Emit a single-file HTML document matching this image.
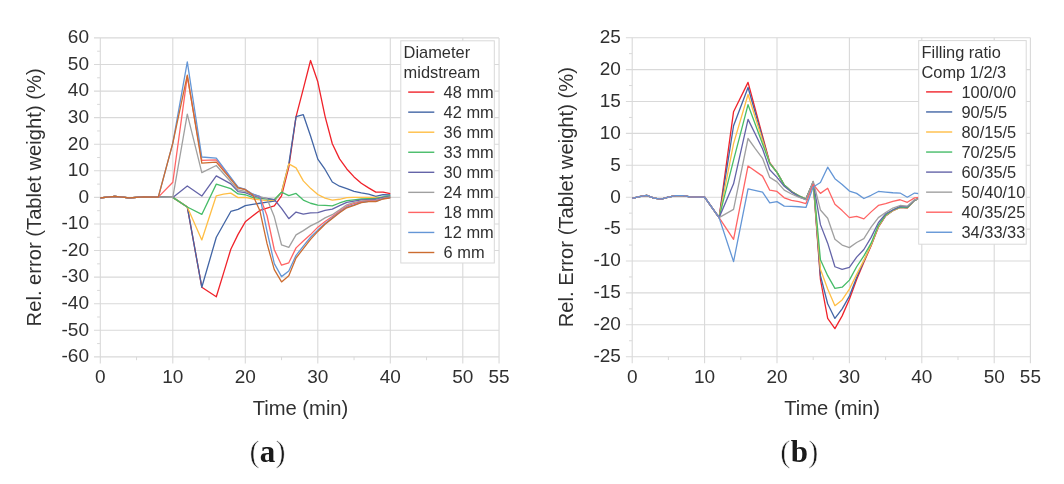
<!DOCTYPE html>
<html><head><meta charset="utf-8"><style>
html,body{margin:0;padding:0;background:#fff;width:1064px;height:484px;overflow:hidden;}
svg{display:block;will-change:transform;}
text{font-family:"Liberation Sans", sans-serif;fill:#303030;}
.tk{font-size:19px;}
.at{font-size:20.2px;}
.lg{font-size:16.4px;}
.par{stroke:#fff;stroke-width:0.55px;}
.cap{font-family:"Liberation Serif", serif;font-size:31px;fill:#1a1a1a;}
</style></head><body>
<svg width="1064" height="484" viewBox="0 0 1064 484">
<rect width="1064" height="484" fill="#fff"/>
<line x1="94.00" y1="356.88" x2="499.05" y2="356.88" stroke="#d9d9d9" stroke-width="1.1"/>
<line x1="94.00" y1="330.30" x2="499.05" y2="330.30" stroke="#d9d9d9" stroke-width="1.1"/>
<line x1="94.00" y1="303.72" x2="499.05" y2="303.72" stroke="#d9d9d9" stroke-width="1.1"/>
<line x1="94.00" y1="277.14" x2="499.05" y2="277.14" stroke="#d9d9d9" stroke-width="1.1"/>
<line x1="94.00" y1="250.56" x2="499.05" y2="250.56" stroke="#d9d9d9" stroke-width="1.1"/>
<line x1="94.00" y1="223.98" x2="499.05" y2="223.98" stroke="#d9d9d9" stroke-width="1.1"/>
<line x1="94.00" y1="197.40" x2="499.05" y2="197.40" stroke="#d9d9d9" stroke-width="1.1"/>
<line x1="94.00" y1="170.82" x2="499.05" y2="170.82" stroke="#d9d9d9" stroke-width="1.1"/>
<line x1="94.00" y1="144.24" x2="499.05" y2="144.24" stroke="#d9d9d9" stroke-width="1.1"/>
<line x1="94.00" y1="117.66" x2="499.05" y2="117.66" stroke="#d9d9d9" stroke-width="1.1"/>
<line x1="94.00" y1="91.08" x2="499.05" y2="91.08" stroke="#d9d9d9" stroke-width="1.1"/>
<line x1="94.00" y1="64.50" x2="499.05" y2="64.50" stroke="#d9d9d9" stroke-width="1.1"/>
<line x1="94.00" y1="37.92" x2="499.05" y2="37.92" stroke="#d9d9d9" stroke-width="1.1"/>
<line x1="97.10" y1="343.59" x2="100.30" y2="343.59" stroke="#d9d9d9" stroke-width="1"/>
<line x1="97.10" y1="317.01" x2="100.30" y2="317.01" stroke="#d9d9d9" stroke-width="1"/>
<line x1="97.10" y1="290.43" x2="100.30" y2="290.43" stroke="#d9d9d9" stroke-width="1"/>
<line x1="97.10" y1="263.85" x2="100.30" y2="263.85" stroke="#d9d9d9" stroke-width="1"/>
<line x1="97.10" y1="237.27" x2="100.30" y2="237.27" stroke="#d9d9d9" stroke-width="1"/>
<line x1="97.10" y1="210.69" x2="100.30" y2="210.69" stroke="#d9d9d9" stroke-width="1"/>
<line x1="97.10" y1="184.11" x2="100.30" y2="184.11" stroke="#d9d9d9" stroke-width="1"/>
<line x1="97.10" y1="157.53" x2="100.30" y2="157.53" stroke="#d9d9d9" stroke-width="1"/>
<line x1="97.10" y1="130.95" x2="100.30" y2="130.95" stroke="#d9d9d9" stroke-width="1"/>
<line x1="97.10" y1="104.37" x2="100.30" y2="104.37" stroke="#d9d9d9" stroke-width="1"/>
<line x1="97.10" y1="77.79" x2="100.30" y2="77.79" stroke="#d9d9d9" stroke-width="1"/>
<line x1="97.10" y1="51.21" x2="100.30" y2="51.21" stroke="#d9d9d9" stroke-width="1"/>
<line x1="100.30" y1="37.92" x2="100.30" y2="363.48" stroke="#d9d9d9" stroke-width="1.1"/>
<line x1="172.80" y1="37.92" x2="172.80" y2="363.48" stroke="#d9d9d9" stroke-width="1.1"/>
<line x1="245.30" y1="37.92" x2="245.30" y2="363.48" stroke="#d9d9d9" stroke-width="1.1"/>
<line x1="317.80" y1="37.92" x2="317.80" y2="363.48" stroke="#d9d9d9" stroke-width="1.1"/>
<line x1="390.30" y1="37.92" x2="390.30" y2="363.48" stroke="#d9d9d9" stroke-width="1.1"/>
<line x1="462.80" y1="37.92" x2="462.80" y2="363.48" stroke="#d9d9d9" stroke-width="1.1"/>
<line x1="499.05" y1="37.92" x2="499.05" y2="363.48" stroke="#d9d9d9" stroke-width="1.1"/>
<line x1="136.55" y1="356.88" x2="136.55" y2="360.18" stroke="#d9d9d9" stroke-width="1"/>
<line x1="209.05" y1="356.88" x2="209.05" y2="360.18" stroke="#d9d9d9" stroke-width="1"/>
<line x1="281.55" y1="356.88" x2="281.55" y2="360.18" stroke="#d9d9d9" stroke-width="1"/>
<line x1="354.05" y1="356.88" x2="354.05" y2="360.18" stroke="#d9d9d9" stroke-width="1"/>
<line x1="426.55" y1="356.88" x2="426.55" y2="360.18" stroke="#d9d9d9" stroke-width="1"/>
<text x="89.00" y="362.18" text-anchor="end" class="tk">-60</text>
<text x="89.00" y="335.60" text-anchor="end" class="tk">-50</text>
<text x="89.00" y="309.02" text-anchor="end" class="tk">-40</text>
<text x="89.00" y="282.44" text-anchor="end" class="tk">-30</text>
<text x="89.00" y="255.86" text-anchor="end" class="tk">-20</text>
<text x="89.00" y="229.28" text-anchor="end" class="tk">-10</text>
<text x="89.00" y="202.70" text-anchor="end" class="tk">0</text>
<text x="89.00" y="176.12" text-anchor="end" class="tk">10</text>
<text x="89.00" y="149.54" text-anchor="end" class="tk">20</text>
<text x="89.00" y="122.96" text-anchor="end" class="tk">30</text>
<text x="89.00" y="96.38" text-anchor="end" class="tk">40</text>
<text x="89.00" y="69.80" text-anchor="end" class="tk">50</text>
<text x="89.00" y="43.22" text-anchor="end" class="tk">60</text>
<text x="100.30" y="382.68" text-anchor="middle" class="tk">0</text>
<text x="172.80" y="382.68" text-anchor="middle" class="tk">10</text>
<text x="245.30" y="382.68" text-anchor="middle" class="tk">20</text>
<text x="317.80" y="382.68" text-anchor="middle" class="tk">30</text>
<text x="390.30" y="382.68" text-anchor="middle" class="tk">40</text>
<text x="462.80" y="382.68" text-anchor="middle" class="tk">50</text>
<text x="499.05" y="382.68" text-anchor="middle" class="tk">55</text>
<text x="300.48" y="415.18" text-anchor="middle" class="at">Time (min)</text>
<text transform="translate(40.60,197.40) rotate(-90)" text-anchor="middle" class="at">Rel. error (Tablet weight) (%)</text>
<polyline points="100.30,197.93 114.80,196.34 129.30,197.93 143.80,196.87 158.30,197.13 172.80,197.40 187.30,206.97 201.80,287.24 216.30,296.81 223.55,273.15 230.80,249.23 238.05,234.35 245.30,221.85 252.55,216.01 259.80,210.42 267.05,208.03 274.30,205.91 281.55,195.81 288.80,167.10 296.05,116.60 303.30,88.95 310.55,60.51 317.80,81.78 325.05,116.33 332.30,143.71 339.55,158.86 346.80,168.96 354.05,176.93 361.30,183.31 368.55,187.83 375.80,192.08 383.05,192.08 390.30,193.68" fill="none" stroke="#F0222A" stroke-width="1.3" stroke-linejoin="round"/>
<polyline points="100.30,197.93 114.80,196.34 129.30,197.93 143.80,196.87 158.30,197.13 172.80,197.40 187.30,206.97 201.80,287.24 216.30,237.27 230.80,211.49 238.05,209.36 245.30,205.64 252.55,204.31 259.80,203.25 267.05,202.18 274.30,201.12 281.55,192.08 288.80,163.91 296.05,116.60 303.30,114.74 310.55,136.00 317.80,159.12 325.05,169.49 332.30,181.98 339.55,186.24 346.80,188.63 354.05,191.29 361.30,192.88 368.55,194.21 375.80,196.34 383.05,194.74 390.30,195.01" fill="none" stroke="#4265A5" stroke-width="1.3" stroke-linejoin="round"/>
<polyline points="100.30,197.93 114.80,196.34 129.30,197.93 143.80,196.87 158.30,197.13 172.80,197.40 187.30,206.97 201.80,239.93 216.30,195.81 223.55,194.21 230.80,193.15 238.05,197.67 245.30,197.40 252.55,198.99 259.80,199.79 267.05,200.59 274.30,200.32 281.55,192.08 288.80,163.91 296.05,167.90 303.30,180.92 310.55,188.36 317.80,194.48 325.05,198.20 332.30,200.06 339.55,199.26 346.80,197.67 354.05,197.40 361.30,197.40 368.55,197.40 375.80,197.40 383.05,197.40 390.30,197.40" fill="none" stroke="#FFBE45" stroke-width="1.3" stroke-linejoin="round"/>
<polyline points="100.30,197.93 114.80,196.34 129.30,197.93 143.80,196.87 158.30,197.13 172.80,197.40 187.30,206.97 201.80,214.41 216.30,184.11 230.80,188.63 238.05,193.94 245.30,194.74 252.55,197.40 259.80,198.46 267.05,198.99 274.30,199.53 281.55,192.08 288.80,195.54 296.05,193.41 303.30,200.06 310.55,203.25 317.80,205.11 325.05,205.37 332.30,205.91 339.55,202.98 346.80,200.59 354.05,199.79 361.30,198.99 368.55,198.73 375.80,198.46 383.05,196.87 390.30,195.81" fill="none" stroke="#46BC68" stroke-width="1.3" stroke-linejoin="round"/>
<polyline points="100.30,197.93 114.80,196.34 129.30,197.93 143.80,196.87 158.30,197.13 172.80,197.40 187.30,185.97 201.80,196.07 216.30,175.87 230.80,183.84 238.05,191.55 245.30,192.62 252.55,195.54 259.80,197.40 267.05,198.46 274.30,199.53 281.55,208.30 288.80,218.66 296.05,212.02 303.30,214.15 310.55,212.82 317.80,212.55 325.05,210.42 332.30,209.10 339.55,205.64 346.80,202.45 354.05,201.12 361.30,199.79 368.55,199.53 375.80,199.26 383.05,197.40 390.30,196.87" fill="none" stroke="#6464A8" stroke-width="1.3" stroke-linejoin="round"/>
<polyline points="100.30,197.93 114.80,196.34 129.30,197.93 143.80,196.87 158.30,197.13 172.80,197.40 187.30,114.20 201.80,172.68 216.30,165.50 238.05,189.96 245.30,191.29 252.55,194.74 259.80,196.60 267.05,198.73 274.30,216.80 281.55,244.98 288.80,247.37 296.05,234.88 303.30,230.62 310.55,225.84 317.80,222.39 325.05,217.87 332.30,214.68 339.55,209.89 346.80,204.84 354.05,202.45 361.30,201.12 368.55,200.32 375.80,200.06 383.05,198.46 390.30,197.13" fill="none" stroke="#A0A0A0" stroke-width="1.3" stroke-linejoin="round"/>
<polyline points="100.30,197.93 114.80,196.34 129.30,197.93 143.80,196.87 158.30,197.13 172.80,182.25 187.30,76.46 201.80,160.45 216.30,159.92 238.05,187.57 245.30,189.43 252.55,194.21 259.80,196.60 267.05,215.74 274.30,249.76 281.55,265.18 288.80,262.79 296.05,247.90 303.30,240.99 310.55,234.61 317.80,227.17 325.05,221.59 332.30,216.54 339.55,211.22 346.80,206.17 354.05,203.51 361.30,201.65 368.55,200.86 375.80,200.86 383.05,198.46 390.30,197.40" fill="none" stroke="#FF6464" stroke-width="1.3" stroke-linejoin="round"/>
<polyline points="100.30,197.93 114.80,196.34 129.30,197.93 143.80,196.87 158.30,197.13 172.80,143.18 187.30,61.84 201.80,157.00 216.30,158.06 238.05,187.03 245.30,189.43 252.55,193.94 259.80,196.34 267.05,231.42 274.30,263.58 281.55,276.61 288.80,271.03 296.05,255.34 303.30,246.04 310.55,237.27 317.80,230.09 325.05,223.45 332.30,217.87 339.55,212.28 346.80,207.23 354.05,204.84 361.30,202.45 368.55,201.39 375.80,201.39 383.05,198.73 390.30,197.67" fill="none" stroke="#6496D6" stroke-width="1.3" stroke-linejoin="round"/>
<polyline points="100.30,197.93 114.80,196.34 129.30,197.93 143.80,196.87 158.30,197.13 172.80,143.18 187.30,75.13 201.80,163.11 216.30,162.05 238.05,187.83 245.30,189.69 252.55,194.74 259.80,210.42 267.05,243.65 274.30,269.70 281.55,281.92 288.80,275.81 296.05,258.00 303.30,248.70 310.55,239.40 317.80,231.42 325.05,224.25 332.30,218.40 339.55,212.82 346.80,207.77 354.05,205.37 361.30,202.72 368.55,201.65 375.80,201.65 383.05,198.99 390.30,197.93" fill="none" stroke="#CC6C30" stroke-width="1.3" stroke-linejoin="round"/>
<rect x="400.80" y="40.80" width="93.50" height="222.20" fill="#fff" stroke="#d9d9d9" stroke-width="1"/>
<text x="403.60" y="57.80" class="lg">Diameter</text>
<text x="403.60" y="77.70" class="lg">midstream</text>
<line x1="408.20" y1="92.10" x2="434.30" y2="92.10" stroke="#F0222A" stroke-width="1.4"/>
<text x="443.60" y="97.70" class="lg">48 mm</text>
<line x1="408.20" y1="112.15" x2="434.30" y2="112.15" stroke="#4265A5" stroke-width="1.4"/>
<text x="443.60" y="117.75" class="lg">42 mm</text>
<line x1="408.20" y1="132.20" x2="434.30" y2="132.20" stroke="#FFBE45" stroke-width="1.4"/>
<text x="443.60" y="137.80" class="lg">36 mm</text>
<line x1="408.20" y1="152.25" x2="434.30" y2="152.25" stroke="#46BC68" stroke-width="1.4"/>
<text x="443.60" y="157.85" class="lg">33 mm</text>
<line x1="408.20" y1="172.30" x2="434.30" y2="172.30" stroke="#6464A8" stroke-width="1.4"/>
<text x="443.60" y="177.90" class="lg">30 mm</text>
<line x1="408.20" y1="192.35" x2="434.30" y2="192.35" stroke="#A0A0A0" stroke-width="1.4"/>
<text x="443.60" y="197.95" class="lg">24 mm</text>
<line x1="408.20" y1="212.40" x2="434.30" y2="212.40" stroke="#FF6464" stroke-width="1.4"/>
<text x="443.60" y="218.00" class="lg">18 mm</text>
<line x1="408.20" y1="232.45" x2="434.30" y2="232.45" stroke="#6496D6" stroke-width="1.4"/>
<text x="443.60" y="238.05" class="lg">12 mm</text>
<line x1="408.20" y1="252.50" x2="434.30" y2="252.50" stroke="#CC6C30" stroke-width="1.4"/>
<text x="443.60" y="258.10" class="lg">6 mm</text>
<text x="267.50" y="462.40" text-anchor="middle" class="cap"><tspan class="par">(</tspan><tspan font-weight="bold">a</tspan><tspan class="par">)</tspan></text>
<line x1="625.90" y1="356.70" x2="1030.40" y2="356.70" stroke="#d9d9d9" stroke-width="1.1"/>
<line x1="625.90" y1="324.80" x2="1030.40" y2="324.80" stroke="#d9d9d9" stroke-width="1.1"/>
<line x1="625.90" y1="292.90" x2="1030.40" y2="292.90" stroke="#d9d9d9" stroke-width="1.1"/>
<line x1="625.90" y1="261.00" x2="1030.40" y2="261.00" stroke="#d9d9d9" stroke-width="1.1"/>
<line x1="625.90" y1="229.10" x2="1030.40" y2="229.10" stroke="#d9d9d9" stroke-width="1.1"/>
<line x1="625.90" y1="197.20" x2="1030.40" y2="197.20" stroke="#d9d9d9" stroke-width="1.1"/>
<line x1="625.90" y1="165.30" x2="1030.40" y2="165.30" stroke="#d9d9d9" stroke-width="1.1"/>
<line x1="625.90" y1="133.40" x2="1030.40" y2="133.40" stroke="#d9d9d9" stroke-width="1.1"/>
<line x1="625.90" y1="101.50" x2="1030.40" y2="101.50" stroke="#d9d9d9" stroke-width="1.1"/>
<line x1="625.90" y1="69.60" x2="1030.40" y2="69.60" stroke="#d9d9d9" stroke-width="1.1"/>
<line x1="625.90" y1="37.70" x2="1030.40" y2="37.70" stroke="#d9d9d9" stroke-width="1.1"/>
<line x1="629.00" y1="340.75" x2="632.20" y2="340.75" stroke="#d9d9d9" stroke-width="1"/>
<line x1="629.00" y1="308.85" x2="632.20" y2="308.85" stroke="#d9d9d9" stroke-width="1"/>
<line x1="629.00" y1="276.95" x2="632.20" y2="276.95" stroke="#d9d9d9" stroke-width="1"/>
<line x1="629.00" y1="245.05" x2="632.20" y2="245.05" stroke="#d9d9d9" stroke-width="1"/>
<line x1="629.00" y1="213.15" x2="632.20" y2="213.15" stroke="#d9d9d9" stroke-width="1"/>
<line x1="629.00" y1="181.25" x2="632.20" y2="181.25" stroke="#d9d9d9" stroke-width="1"/>
<line x1="629.00" y1="149.35" x2="632.20" y2="149.35" stroke="#d9d9d9" stroke-width="1"/>
<line x1="629.00" y1="117.45" x2="632.20" y2="117.45" stroke="#d9d9d9" stroke-width="1"/>
<line x1="629.00" y1="85.55" x2="632.20" y2="85.55" stroke="#d9d9d9" stroke-width="1"/>
<line x1="629.00" y1="53.65" x2="632.20" y2="53.65" stroke="#d9d9d9" stroke-width="1"/>
<line x1="632.20" y1="37.70" x2="632.20" y2="363.30" stroke="#d9d9d9" stroke-width="1.1"/>
<line x1="704.60" y1="37.70" x2="704.60" y2="363.30" stroke="#d9d9d9" stroke-width="1.1"/>
<line x1="777.00" y1="37.70" x2="777.00" y2="363.30" stroke="#d9d9d9" stroke-width="1.1"/>
<line x1="849.40" y1="37.70" x2="849.40" y2="363.30" stroke="#d9d9d9" stroke-width="1.1"/>
<line x1="921.80" y1="37.70" x2="921.80" y2="363.30" stroke="#d9d9d9" stroke-width="1.1"/>
<line x1="994.20" y1="37.70" x2="994.20" y2="363.30" stroke="#d9d9d9" stroke-width="1.1"/>
<line x1="1030.40" y1="37.70" x2="1030.40" y2="363.30" stroke="#d9d9d9" stroke-width="1.1"/>
<line x1="668.40" y1="356.70" x2="668.40" y2="360.00" stroke="#d9d9d9" stroke-width="1"/>
<line x1="740.80" y1="356.70" x2="740.80" y2="360.00" stroke="#d9d9d9" stroke-width="1"/>
<line x1="813.20" y1="356.70" x2="813.20" y2="360.00" stroke="#d9d9d9" stroke-width="1"/>
<line x1="885.60" y1="356.70" x2="885.60" y2="360.00" stroke="#d9d9d9" stroke-width="1"/>
<line x1="958.00" y1="356.70" x2="958.00" y2="360.00" stroke="#d9d9d9" stroke-width="1"/>
<text x="620.90" y="362.00" text-anchor="end" class="tk">-25</text>
<text x="620.90" y="330.10" text-anchor="end" class="tk">-20</text>
<text x="620.90" y="298.20" text-anchor="end" class="tk">-15</text>
<text x="620.90" y="266.30" text-anchor="end" class="tk">-10</text>
<text x="620.90" y="234.40" text-anchor="end" class="tk">-5</text>
<text x="620.90" y="202.50" text-anchor="end" class="tk">0</text>
<text x="620.90" y="170.60" text-anchor="end" class="tk">5</text>
<text x="620.90" y="138.70" text-anchor="end" class="tk">10</text>
<text x="620.90" y="106.80" text-anchor="end" class="tk">15</text>
<text x="620.90" y="74.90" text-anchor="end" class="tk">20</text>
<text x="620.90" y="43.00" text-anchor="end" class="tk">25</text>
<text x="632.20" y="382.50" text-anchor="middle" class="tk">0</text>
<text x="704.60" y="382.50" text-anchor="middle" class="tk">10</text>
<text x="777.00" y="382.50" text-anchor="middle" class="tk">20</text>
<text x="849.40" y="382.50" text-anchor="middle" class="tk">30</text>
<text x="921.80" y="382.50" text-anchor="middle" class="tk">40</text>
<text x="994.20" y="382.50" text-anchor="middle" class="tk">50</text>
<text x="1030.40" y="382.50" text-anchor="middle" class="tk">55</text>
<text x="832.10" y="415.00" text-anchor="middle" class="at">Time (min)</text>
<text transform="translate(572.60,197.20) rotate(-90)" text-anchor="middle" class="at">Rel. Error (Tablet weight) (%)</text>
<polyline points="632.20,198.48 639.44,196.56 646.68,195.29 653.92,198.16 661.16,199.11 668.40,197.20 675.64,195.60 682.88,195.60 690.12,196.88 704.60,197.20 719.08,217.62 733.56,111.71 748.04,82.36 769.76,162.75 777.00,172.32 784.24,185.08 791.48,191.46 798.72,195.92 805.96,199.11 813.20,181.89 820.44,279.50 827.68,318.42 834.92,328.63 842.16,315.87 849.40,299.28 856.64,279.50 863.88,262.28 871.12,245.69 878.36,227.19 885.60,216.02 892.84,210.60 900.08,207.41 907.32,207.73 914.56,200.39 921.80,197.20" fill="none" stroke="#F0222A" stroke-width="1.3" stroke-linejoin="round"/>
<polyline points="632.20,198.48 639.44,196.56 646.68,195.29 653.92,198.16 661.16,199.11 668.40,197.20 675.64,195.60 682.88,195.60 690.12,196.88 704.60,197.20 719.08,217.62 733.56,125.74 748.04,87.46 769.76,163.39 777.00,172.32 784.24,185.08 791.48,191.46 798.72,195.92 805.96,199.11 813.20,181.89 820.44,275.67 827.68,303.75 834.92,318.42 842.16,308.85 849.40,296.09 856.64,277.59 863.88,261.00 871.12,245.05 878.36,226.55 885.60,215.70 892.84,210.60 900.08,207.41 907.32,207.73 914.56,200.39 921.80,197.20" fill="none" stroke="#4265A5" stroke-width="1.3" stroke-linejoin="round"/>
<polyline points="632.20,198.48 639.44,196.56 646.68,195.29 653.92,198.16 661.16,199.11 668.40,197.20 675.64,195.60 682.88,195.60 690.12,196.88 704.60,197.20 719.08,217.62 733.56,143.61 748.04,94.48 769.76,163.39 777.00,172.32 784.24,185.08 791.48,191.46 798.72,195.92 805.96,199.11 813.20,181.89 820.44,269.29 827.68,289.07 834.92,305.66 842.16,299.92 849.40,289.07 856.64,274.40 863.88,260.36 871.12,245.05 878.36,226.55 885.60,215.38 892.84,210.60 900.08,207.41 907.32,207.73 914.56,200.39 921.80,197.20" fill="none" stroke="#FFBE45" stroke-width="1.3" stroke-linejoin="round"/>
<polyline points="632.20,198.48 639.44,196.56 646.68,195.29 653.92,198.16 661.16,199.11 668.40,197.20 675.64,195.60 682.88,195.60 690.12,196.88 704.60,197.20 719.08,217.62 733.56,160.20 748.04,104.69 769.76,163.39 777.00,172.32 784.24,185.08 791.48,191.46 798.72,195.92 805.96,199.11 813.20,181.89 820.44,259.72 827.68,275.67 834.92,288.43 842.16,287.16 849.40,280.14 856.64,266.74 863.88,255.90 871.12,243.14 878.36,225.27 885.60,215.06 892.84,209.96 900.08,207.09 907.32,207.41 914.56,200.39 921.80,197.20" fill="none" stroke="#46BC68" stroke-width="1.3" stroke-linejoin="round"/>
<polyline points="632.20,198.48 639.44,196.56 646.68,195.29 653.92,198.16 661.16,199.11 668.40,197.20 675.64,195.60 682.88,195.60 690.12,196.88 704.60,197.20 719.08,217.62 733.56,183.80 748.04,119.36 762.52,148.71 769.76,169.77 777.00,177.42 784.24,186.35 791.48,192.10 798.72,196.56 805.96,199.75 813.20,181.89 820.44,224.63 827.68,243.14 834.92,266.74 842.16,269.29 849.40,267.38 856.64,257.17 863.88,249.52 871.12,237.39 878.36,222.72 885.60,213.79 892.84,209.96 900.08,206.45 907.32,206.77 914.56,200.07 921.80,197.20" fill="none" stroke="#6464A8" stroke-width="1.3" stroke-linejoin="round"/>
<polyline points="632.20,198.48 639.44,196.56 646.68,195.29 653.92,198.16 661.16,199.11 668.40,197.20 675.64,195.60 682.88,195.60 690.12,196.88 704.60,197.20 719.08,217.62 733.56,209.32 748.04,138.50 755.28,148.71 762.52,158.28 769.76,177.42 777.00,181.89 784.24,190.18 791.48,194.01 798.72,197.20 805.96,199.75 813.20,181.25 820.44,209.96 827.68,218.25 834.92,239.31 842.16,245.05 849.40,247.60 856.64,242.50 863.88,238.67 871.12,227.19 878.36,217.62 885.60,212.51 892.84,208.05 900.08,205.49 907.32,206.13 914.56,199.75 921.80,198.48" fill="none" stroke="#A0A0A0" stroke-width="1.3" stroke-linejoin="round"/>
<polyline points="632.20,198.48 639.44,196.56 646.68,195.29 653.92,198.16 661.16,199.11 668.40,197.20 675.64,195.60 682.88,195.60 690.12,196.88 704.60,197.20 719.08,217.62 733.56,239.31 748.04,165.94 762.52,176.15 769.76,190.18 777.00,191.46 784.24,197.84 791.48,200.39 798.72,201.67 805.96,203.58 813.20,184.44 820.44,193.37 827.68,188.27 834.92,204.22 842.16,210.60 849.40,217.62 856.64,216.34 863.88,218.89 871.12,211.87 878.36,205.49 885.60,203.58 892.84,201.35 900.08,199.75 907.32,202.30 914.56,197.84 921.80,197.20" fill="none" stroke="#FF6464" stroke-width="1.3" stroke-linejoin="round"/>
<polyline points="632.20,198.48 639.44,196.56 646.68,195.29 653.92,198.16 661.16,199.11 668.40,197.20 675.64,195.60 682.88,195.60 690.12,196.88 704.60,197.20 719.08,217.62 733.56,261.64 748.04,188.91 762.52,192.10 769.76,202.94 777.00,201.67 784.24,206.13 791.48,206.45 798.72,206.77 805.96,207.41 813.20,186.99 820.44,182.53 827.68,167.21 834.92,178.70 842.16,184.44 849.40,191.08 856.64,193.37 863.88,198.48 871.12,195.29 878.36,191.46 885.60,192.10 892.84,192.73 900.08,193.05 907.32,197.20 914.56,193.05 921.80,194.01" fill="none" stroke="#6496D6" stroke-width="1.3" stroke-linejoin="round"/>
<rect x="918.70" y="40.60" width="107.50" height="203.60" fill="#fff" stroke="#d9d9d9" stroke-width="1"/>
<text x="921.50" y="57.60" class="lg">Filling ratio</text>
<text x="921.50" y="77.50" class="lg">Comp 1/2/3</text>
<line x1="926.10" y1="91.90" x2="952.20" y2="91.90" stroke="#F0222A" stroke-width="1.4"/>
<text x="961.50" y="97.50" class="lg">100/0/0</text>
<line x1="926.10" y1="111.95" x2="952.20" y2="111.95" stroke="#4265A5" stroke-width="1.4"/>
<text x="961.50" y="117.55" class="lg">90/5/5</text>
<line x1="926.10" y1="132.00" x2="952.20" y2="132.00" stroke="#FFBE45" stroke-width="1.4"/>
<text x="961.50" y="137.60" class="lg">80/15/5</text>
<line x1="926.10" y1="152.05" x2="952.20" y2="152.05" stroke="#46BC68" stroke-width="1.4"/>
<text x="961.50" y="157.65" class="lg">70/25/5</text>
<line x1="926.10" y1="172.10" x2="952.20" y2="172.10" stroke="#6464A8" stroke-width="1.4"/>
<text x="961.50" y="177.70" class="lg">60/35/5</text>
<line x1="926.10" y1="192.15" x2="952.20" y2="192.15" stroke="#A0A0A0" stroke-width="1.4"/>
<text x="961.50" y="197.75" class="lg">50/40/10</text>
<line x1="926.10" y1="212.20" x2="952.20" y2="212.20" stroke="#FF6464" stroke-width="1.4"/>
<text x="961.50" y="217.80" class="lg">40/35/25</text>
<line x1="926.10" y1="232.25" x2="952.20" y2="232.25" stroke="#6496D6" stroke-width="1.4"/>
<text x="961.50" y="237.85" class="lg">34/33/33</text>
<text x="799.30" y="462.40" text-anchor="middle" class="cap"><tspan class="par">(</tspan><tspan font-weight="bold">b</tspan><tspan class="par">)</tspan></text>
</svg>
</body></html>
